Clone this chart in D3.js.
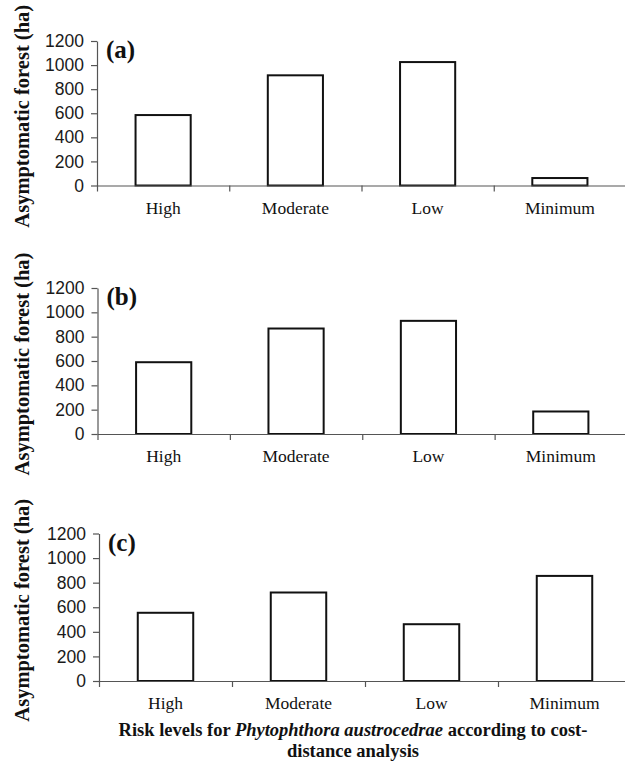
<!DOCTYPE html>
<html>
<head>
<meta charset="utf-8">
<script src="https://cdnjs.cloudflare.com/ajax/libs/d3/7.8.5/d3.min.js"></script>
<style>
  body { margin: 0; background: #fff; }
  svg { display: block; }
</style>
</head>
<body>
<svg id="chart" width="625" height="770"></svg>
<script>
'use strict';

/* Data */

var categories = ['High', 'Moderate', 'Low', 'Minimum'];
var panelA = [585, 915, 1025, 62];
var panelB = [590, 867, 930, 185];
var panelC = [555, 720, 462, 855];
var yTicks = [0, 200, 400, 600, 800, 1000, 1200];
var panelLabels = ['(a)', '(b)', '(c)'];
var yTitle = 'Asymptomatic forest (ha)';

// layout of each panel (pixel boxes)
var panels = [
  { values: panelA, label: panelLabels[0], top: 41, bottom: 185.5, left: 97, right: 626 },
  { values: panelB, label: panelLabels[1], top: 288, bottom: 434, left: 97.5, right: 627 },
  { values: panelC, label: panelLabels[2], top: 533.5, bottom: 681, left: 99, right: 631 }
];

var svg = d3.select('#chart');
var axisColor = '#555';

panels.forEach(function (p) {
  var g = svg.append('g');

  var x = d3.scaleBand().domain(categories).range([p.left, p.right]).padding(0);
  var xb = d3.scaleLinear().domain([0, categories.length]).range([p.left, p.right]);
  var y = d3.scaleLinear().domain([0, 1200]).range([p.bottom, p.top]);
  var barW = x.bandwidth() * 0.417;

  //bars
  g.selectAll('rect.bar').data(p.values).enter().append('rect')
    .attr('class', 'bar')
    .attr('x', function (d, i) { return x(categories[i]) + (x.bandwidth() - barW) / 2; })
    .attr('y', function (d) { return y(d); })
    .attr('width', barW)
    .attr('height', function (d) { return y(0) - y(d); })
    .style('fill', '#fff')
    .style('stroke', '#111')
    .style('stroke-width', 2);

  //y axis
  var ya = g.append('g')
    .attr('transform', 'translate(' + p.left + ',0)')
    .call(d3.axisLeft(y).tickValues(yTicks).tickFormat(d3.format('d'))
      .tickSize(6).tickSizeOuter(0).tickPadding(7));
  ya.selectAll('text')
    .style('font-family', '"Liberation Sans", Arial, sans-serif')
    .style('font-size', '17.5px')
    .style('fill', '#1a1a1a');

  //x axis with boundary ticks
  g.append('g')
    .attr('transform', 'translate(0,' + p.bottom + ')')
    .call(d3.axisBottom(xb).tickValues(d3.range(categories.length + 1)).tickFormat('').tickSize(6).tickSizeOuter(0));

  //category labels
  var xl = g.append('g')
    .attr('transform', 'translate(0,' + p.bottom + ')')
    .call(d3.axisBottom(x).tickSize(0).tickPadding(16));
  xl.select('.domain').remove();
  xl.selectAll('text')
    .style('font-family', '"Liberation Serif", "Times New Roman", serif')
    .style('font-size', '17.5px')
    .style('fill', '#111');

  g.selectAll('.domain, .tick line')
    .style('stroke', axisColor)
    .style('stroke-width', 1.2);

  //panel label
  g.append('text')
    .attr('x', p.left + 9)
    .attr('y', p.top + 17)
    .style('font-family', '"Liberation Serif", "Times New Roman", serif')
    .style('font-weight', 'bold')
    .style('font-size', '25px')
    .style('fill', '#111')
    .text(p.label);

  //y title
  g.append('text')
    .attr('transform', 'translate(29,' + ((p.top + p.bottom) / 2 + 3) + ') rotate(-90)')
    .attr('text-anchor', 'middle')
    .style('font-family', '"Liberation Serif", "Times New Roman", serif')
    .style('font-weight', 'bold')
    .style('font-size', '20.5px')
    .style('fill', '#111')
    .text(yTitle);
});

// x title
var title = svg.append('text')
  .attr('text-anchor', 'middle')
  .style('font-family', '"Liberation Serif", "Times New Roman", serif')
  .style('font-weight', 'bold')
  .style('font-size', '18.5px')
  .style('fill', '#111');

var line1 = title.append('tspan').attr('x', 353).attr('y', 736);
line1.append('tspan').text('Risk levels for ');
line1.append('tspan').style('font-style', 'italic').text('Phytophthora austrocedrae');
line1.append('tspan').text(' according to cost-');
title.append('tspan').attr('x', 353).attr('y', 757).text('distance analysis');
</script>
</body>
</html>
